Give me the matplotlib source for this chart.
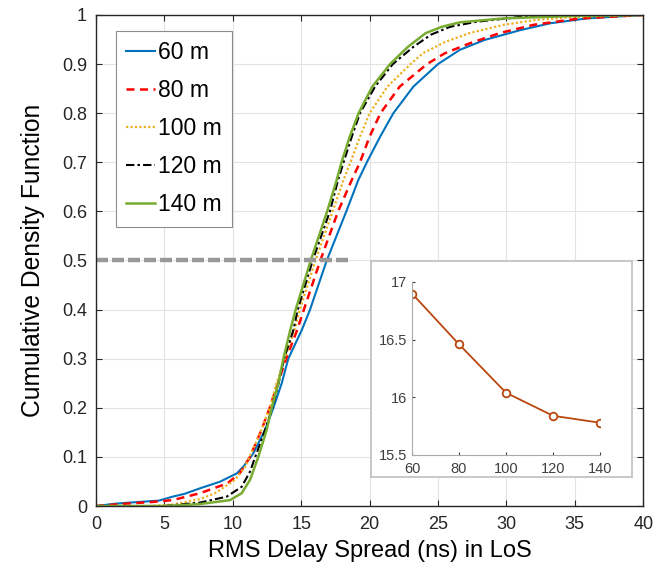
import matplotlib.pyplot as plt
import numpy as np

plt.rcParams['font.family'] = ['Liberation Sans', 'DejaVu Sans']

# CDF curves (x in ns, y = CDF)
x60 = [0, 1.5, 3, 4.6, 5.6, 6.5, 7.6, 9.07, 10.3, 10.77, 11.5, 12.36, 12.97, 13.58, 14.06, 15.04, 15.65, 16.87,
       18.3, 19.18, 19.8, 20.77, 21.74, 23.2, 25.0, 26.6, 28.4, 31.0, 33.2, 35.9, 40]
y60 = [0, 0.005, 0.008, 0.011, 0.019, 0.025, 0.036, 0.0495, 0.0665, 0.080, 0.107, 0.155, 0.2, 0.25, 0.3, 0.358, 0.4, 0.5,
       0.6, 0.664, 0.7, 0.752, 0.8, 0.854, 0.9, 0.929, 0.949, 0.969, 0.983, 0.993, 1.0]

x80 = [0, 2.3, 4, 5.6, 7.6, 8.3, 9.6, 10.5, 11.26, 12.1, 12.7, 13.3, 13.9, 14.7, 15.2, 16.4,
       17.7, 18.7, 19.3, 20.0, 20.8, 22.2, 24.2, 25.5, 27.3, 29.5, 32.0, 35.4, 40]
y80 = [0, 0.005, 0.008, 0.012, 0.026, 0.033, 0.046, 0.066, 0.1, 0.155, 0.2, 0.25, 0.3, 0.358, 0.4, 0.5,
       0.6, 0.664, 0.7, 0.752, 0.8, 0.854, 0.9, 0.922, 0.942, 0.963, 0.98, 0.993, 1.0]

x100 = [0, 4, 5.6, 7.6, 8.7, 10.16, 10.9, 12.1, 12.7, 13.2, 13.8, 14.5, 14.9, 16.05,
        17.3, 18.1, 18.6, 19.3, 20.0, 21.3, 23.0, 23.9, 25.6, 27.3, 29.8, 32.2, 35, 40]
y100 = [0, 0, 0.003, 0.014, 0.026, 0.053, 0.08, 0.155, 0.2, 0.25, 0.3, 0.358, 0.4, 0.5,
        0.6, 0.664, 0.7, 0.752, 0.8, 0.854, 0.9, 0.922, 0.946, 0.963, 0.98, 0.99, 0.996, 1.0]

x120 = [0, 5, 7.6, 9.55, 10.65, 11.26, 12.36, 12.9, 13.35, 13.75, 14.43, 14.75, 15.84,
        17.1, 17.7, 18.1, 18.7, 19.3, 20.4, 21.7, 23.2, 24.5, 25.9, 27.8, 31, 35, 40]
y120 = [0, 0, 0.007, 0.019, 0.039, 0.07, 0.155, 0.2, 0.25, 0.3, 0.358, 0.4, 0.5,
        0.6, 0.664, 0.7, 0.752, 0.8, 0.854, 0.9, 0.935, 0.96, 0.976, 0.986, 0.996, 0.999, 1.0]

x140 = [0, 5, 7.6, 9.8, 10.65, 11.26, 11.87, 12.48, 12.85, 13.33, 13.7, 14.2, 14.6, 15.7,
        16.9, 17.6, 17.95, 18.55, 19.2, 20.2, 21.5, 22.8, 24.1, 25.3, 26.6, 29.8, 35, 40]
y140 = [0, 0, 0.004, 0.012, 0.026, 0.053, 0.1, 0.155, 0.2, 0.25, 0.3, 0.358, 0.4, 0.5,
        0.6, 0.664, 0.7, 0.752, 0.8, 0.854, 0.9, 0.935, 0.963, 0.976, 0.985, 0.993, 0.998, 1.0]

# inset: median delay spread vs distance
dist = [60, 80, 100, 120, 140]
median_ds = [16.9, 16.46, 16.04, 15.84, 15.78]

fig = plt.figure(figsize=(6.57, 5.71), dpi=100)
ax = fig.add_axes([0.146, 0.1138, 0.833, 0.860])

ax.plot(x60, y60, color='#0072BD', lw=1.5, label='60 m')
ax.plot(x80, y80, color='#FF0000', lw=1.8, ls=(0, (3.2, 2.2)), label='80 m')
ax.plot(x100, y100, color='#EDB120', lw=1.6, ls=(0, (1, 1)), label='100 m')
ax.plot(x120, y120, color='black', lw=1.5, ls=(0, (4, 1.5, 1.2, 1.5)), label='120 m')
ax.plot(x140, y140, color='#77AC30', lw=1.8, label='140 m')

ax.plot([0, 18.4], [0.5, 0.5], color='#999999', lw=3.2, ls=(0, (2.7, 0.9)))

ax.set_xlim(0, 40)
ax.set_ylim(0, 1)
ax.set_xticks(np.arange(0, 41, 5))
ax.set_yticks(np.arange(0, 1.01, 0.1))
ax.set_yticklabels(['0', '0.1', '0.2', '0.3', '0.4', '0.5', '0.6', '0.7', '0.8', '0.9', '1'])
ax.tick_params(direction='in', top=True, right=True, labelsize=13, colors='#262626', length=4)
ax.tick_params(axis='x', pad=7)
ax.tick_params(axis='y', pad=6.5)
ax.grid(True, color='#e3e3e3', lw=0.8)
for s in ax.spines.values():
    s.set_color('#262626')
    s.set_linewidth(1.0)
ax.set_xlabel('RMS Delay Spread (ns) in LoS', fontsize=17, labelpad=5.5)
ax.set_ylabel('Cumulative Density Function', fontsize=17.7, labelpad=12)

leg = ax.legend(loc='upper left', bbox_to_anchor=(0.0366, 0.968), fontsize=16.5,
                handlelength=1.25, handletextpad=0.15, labelspacing=0.66,
                borderpad=0.45, borderaxespad=0, fancybox=False, framealpha=1,
                edgecolor='#8c8c8c')
leg.get_frame().set_linewidth(0.8)

# inset frame
frame = fig.add_axes([371 / 657, 1 - 477 / 571, 261 / 657, 216 / 571])
frame.set_xticks([])
frame.set_yticks([])
for s in frame.spines.values():
    s.set_color('#c4c4c4')
    s.set_linewidth(1.3)

ins = fig.add_axes([412 / 657, 1 - 455 / 571, 188 / 657, 173 / 571])
ins.plot(dist, median_ds, color='#B8470F', lw=1.3, marker='o', ms=5.5,
         mfc='white', mec='#B8470F', mew=1.3)
ins.set_xlim(60, 140)
ins.set_ylim(15.5, 17)
ins.set_xticks(dist)
ins.set_yticks([15.5, 16, 16.5, 17])
ins.set_yticklabels(['15.5', '16', '16.5', '17'])
ins.tick_params(labelsize=10.5, colors='#404040', length=2, direction='in')
ins.tick_params(axis='x', pad=5)
ins.tick_params(axis='y', pad=3.5)
ins.spines['top'].set_visible(False)
ins.spines['right'].set_visible(False)
for s in ['left', 'bottom']:
    ins.spines[s].set_color('#aaaaaa')
    ins.spines[s].set_linewidth(0.8)

fig.savefig('out.png', dpi=100)
